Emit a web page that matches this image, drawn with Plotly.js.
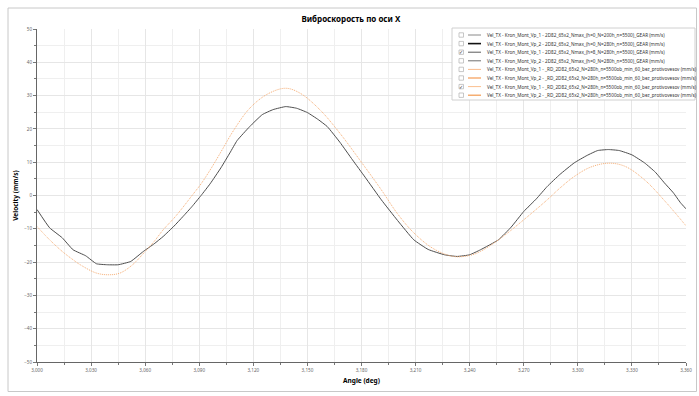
<!DOCTYPE html>
<html>
<head>
<meta charset="utf-8">
<script src="https://cdn.plot.ly/plotly-3.0.1.min.js"></script>
<style>html,body{margin:0;padding:0;background:#fff;}#chart{width:699px;height:396px;}</style>
</head>
<body>
<div id="chart"></div>
<script>
// ---- data ----
const angleA = [3000, 3007, 3014, 3020, 3027, 3033, 3039, 3045, 3052, 3059, 3065, 3070, 3076, 3081, 3086, 3091, 3096, 3102, 3107, 3111, 3118, 3125, 3131, 3138, 3144, 3150, 3156, 3161, 3168, 3175, 3182, 3191, 3200, 3209, 3217, 3226, 3233, 3240, 3246, 3256, 3263, 3270, 3277, 3283, 3290, 3298, 3305, 3311, 3317, 3323, 3330, 3337, 3343, 3348, 3353, 3357, 3360];
const velA = [-4.2, -9.7, -12.7, -16.3, -18.1, -20.5, -20.8, -20.8, -19.8, -16.8, -14.5, -12.3, -9.2, -6.3, -3.3, 0.0, 3.5, 8.3, 12.8, 16.5, 20.7, 24.3, 25.8, 26.7, 26.2, 24.9, 22.8, 20.7, 16.0, 10.7, 5.5, -1.3, -7.5, -13.3, -16.2, -17.8, -18.3, -17.8, -16.3, -13.3, -9.5, -4.8, -1.0, 2.7, 6.3, 9.8, 12.0, 13.5, 13.8, 13.5, 12.2, 9.8, 7.0, 3.8, 0.8, -2.2, -4.0];
const angleB = [3000, 3007, 3014, 3020, 3024, 3033, 3040, 3046, 3053, 3060, 3065, 3070, 3076, 3081, 3086, 3091, 3097, 3103, 3109, 3118, 3128, 3138, 3146, 3157, 3168, 3179, 3191, 3200, 3209, 3220, 3231, 3240, 3246, 3258, 3270, 3283, 3290, 3298, 3307, 3317, 3326, 3337, 3348, 3360];
const velB = [-9.3, -13.3, -16.8, -19.3, -20.8, -23.3, -23.8, -23.3, -20.8, -16.8, -13.8, -10.3, -6.8, -3.5, 0.0, 3.5, 8.5, 14.0, 19.5, 26.2, 30.5, 32.2, 30.7, 25.7, 18.7, 10.7, 1.7, -5.5, -11.2, -16.0, -18.3, -18.0, -16.8, -12.5, -7.3, -1.3, 2.2, 5.7, 8.5, 9.7, 8.8, 4.7, -1.5, -9.1];

const seriesNames = [
  "Vel_TX - Kron_Mont_Vp_1 - 2D82_65x2_Nmax_(h=0_N=200h_n=5500)_GEAR (mm/s)",
  "Vel_TX - Kron_Mont_Vp_2 - 2D82_65x2_Nmax_(h=0_N=280h_n=5500)_GEAR (mm/s)",
  "Vel_TX - Kron_Mont_Vp_1 - 2D82_65x2_Nmax_(h=8_N=280h_n=5500)_GEAR (mm/s)",
  "Vel_TX - Kron_Mont_Vp_2 - 2D82_65x2_Nmax_(h=0_N=280h_n=5500)_GEAR (mm/s)",
  "Vel_TX - Kron_Mont_Vp_1 - _RD_2D82_65x2_N=280h_n=5500ob_min_60_bez_protivovesov (mm/s)",
  "Vel_TX - Kron_Mont_Vp_2 - _RD_2D82_65x2_N=280h_n=5500ob_min_60_bez_protivovesov (mm/s)",
  "Vel_TX - Kron_Mont_Vp_1 - _RD_2D82_65x2_N=280h_n=5500ob_min_60_bez_protivovesov (mm/s)",
  "Vel_TX - Kron_Mont_Vp_2 - _RD_2D82_65x2_N=280h_n=5500ob_min_60_bez_protivovesov (mm/s)"
];
const seriesChecked = [false, false, true, false, false, false, true, false];
const seriesColors = ["#8a8a8a", "#111111", "#5a5a5a", "#707070", "#f9bb8c", "#f59a52", "#fbbf8f", "#f39a4e"];
const seriesWidths = [1, 1.6, 1, 1, 1, 1.2, 1, 1.2];

const titleText = "Виброскорость по оси X";
const xTitle = "Angle (deg)";
const yTitle = "Velocity (mm/s)";

// ---- geometry helpers (pixel -> paper) ----
const W = 699, H = 396, L = 37, R = 13, T = 29, B = 34;
const PW = W - L - R, PH = H - T - B;
const xp = px => (px - L) / PW;
const yp = py => (H - B - py) / PH;

const FONT = "Noto Sans, Open Sans, sans-serif";

const traces = [
  {x: angleA, y: velA, type: 'scatter', mode: 'lines', name: seriesNames[2],
   line: {color: '#4d4d4d', width: 1, shape: 'spline', smoothing: 0.4}, showlegend: false, hoverinfo: 'skip'},
  {x: angleB, y: velB, type: 'scatter', mode: 'lines', name: seriesNames[6],
   line: {color: '#f6ad74', width: 1, dash: '1px,1px', shape: 'spline'}, showlegend: false, hoverinfo: 'skip'}
];

const shapes = [
  {type: 'rect', xref: 'paper', yref: 'paper', x0: xp(8), x1: xp(696.5), y0: yp(391.5), y1: yp(8),
   line: {color: '#c8c8c8', width: 1}, fillcolor: 'rgba(0,0,0,0)', layer: 'below'},
  {type: 'rect', xref: 'paper', yref: 'paper', x0: xp(452), x1: xp(695), y0: yp(100), y1: yp(28),
   line: {color: '#d0d0d0', width: 1}, fillcolor: '#ffffff', layer: 'above'}
];
const annotations = [];
seriesNames.forEach((nm, i) => {
  const ry = 35 + i * 8.6;
  shapes.push({type: 'rect', xref: 'paper', yref: 'paper', x0: xp(459), x1: xp(463.5), y0: yp(ry + 2.2), y1: yp(ry - 2.2),
    line: {color: '#b0b0b0', width: 0.7}, fillcolor: '#ffffff', layer: 'above'});
  shapes.push({type: 'line', xref: 'paper', yref: 'paper', x0: xp(468), x1: xp(481), y0: yp(ry), y1: yp(ry),
    line: {color: seriesColors[i], width: seriesWidths[i]}, layer: 'above'});
  annotations.push({xref: 'paper', yref: 'paper', x: xp(484.5), y: yp(ry), text: nm, showarrow: false,
    xanchor: 'left', yanchor: 'middle', font: {family: FONT, size: 4.65, color: '#333'}});
  if (seriesChecked[i]) {
    annotations.push({xref: 'paper', yref: 'paper', x: xp(461.3), y: yp(ry), text: '✓', showarrow: false,
      xanchor: 'center', yanchor: 'middle', font: {family: 'DejaVu Sans', size: 5, color: '#333'}});
  }
});

const layout = {
  width: W, height: H,
  margin: {l: L, r: R, t: T, b: B, pad: 0},
  paper_bgcolor: '#ffffff', plot_bgcolor: '#ffffff',
  showlegend: false,
  title: {text: titleText, font: {family: FONT, size: 8, color: '#000', weight: 'bold'},
          xref: 'container', x: 0.502, y: 1 - 19 / H, yanchor: 'middle'},
  xaxis: {
    range: [3000, 3360], dtick: 30, tick0: 3000, tickformat: ',d',
    showgrid: true, gridcolor: '#e6e6e6', gridwidth: 1,
    minor: {dtick: 15, showgrid: true, gridcolor: '#efefef', ticks: 'outside', ticklen: 2, tickcolor: '#777'},
    zeroline: false, showline: true, linecolor: '#666', linewidth: 1,
    ticks: 'outside', ticklen: 3, tickcolor: '#777',
    tickfont: {family: FONT, size: 4.6, color: '#666'},
    title: {text: xTitle, font: {family: FONT, size: 6.5, color: '#000', weight: 'bold'}, standoff: 6},
    automargin: false, fixedrange: true
  },
  yaxis: {
    range: [-50, 50], dtick: 10, tick0: 0,
    showgrid: true, gridcolor: '#e6e6e6', gridwidth: 1,
    minor: {dtick: 5, showgrid: true, gridcolor: '#efefef', ticks: 'outside', ticklen: 2, tickcolor: '#777'},
    zeroline: false, showline: true, linecolor: '#666', linewidth: 1,
    ticks: 'outside', ticklen: 3, tickcolor: '#777',
    tickfont: {family: FONT, size: 4.6, color: '#666'},
    title: {text: yTitle, font: {family: FONT, size: 6.5, color: '#000', weight: 'bold'}, standoff: 4},
    automargin: false, fixedrange: true
  },
  shapes: shapes,
  annotations: annotations
};

Plotly.newPlot('chart', traces, layout, {displayModeBar: false, staticPlot: true});
</script>
</body>
</html>
